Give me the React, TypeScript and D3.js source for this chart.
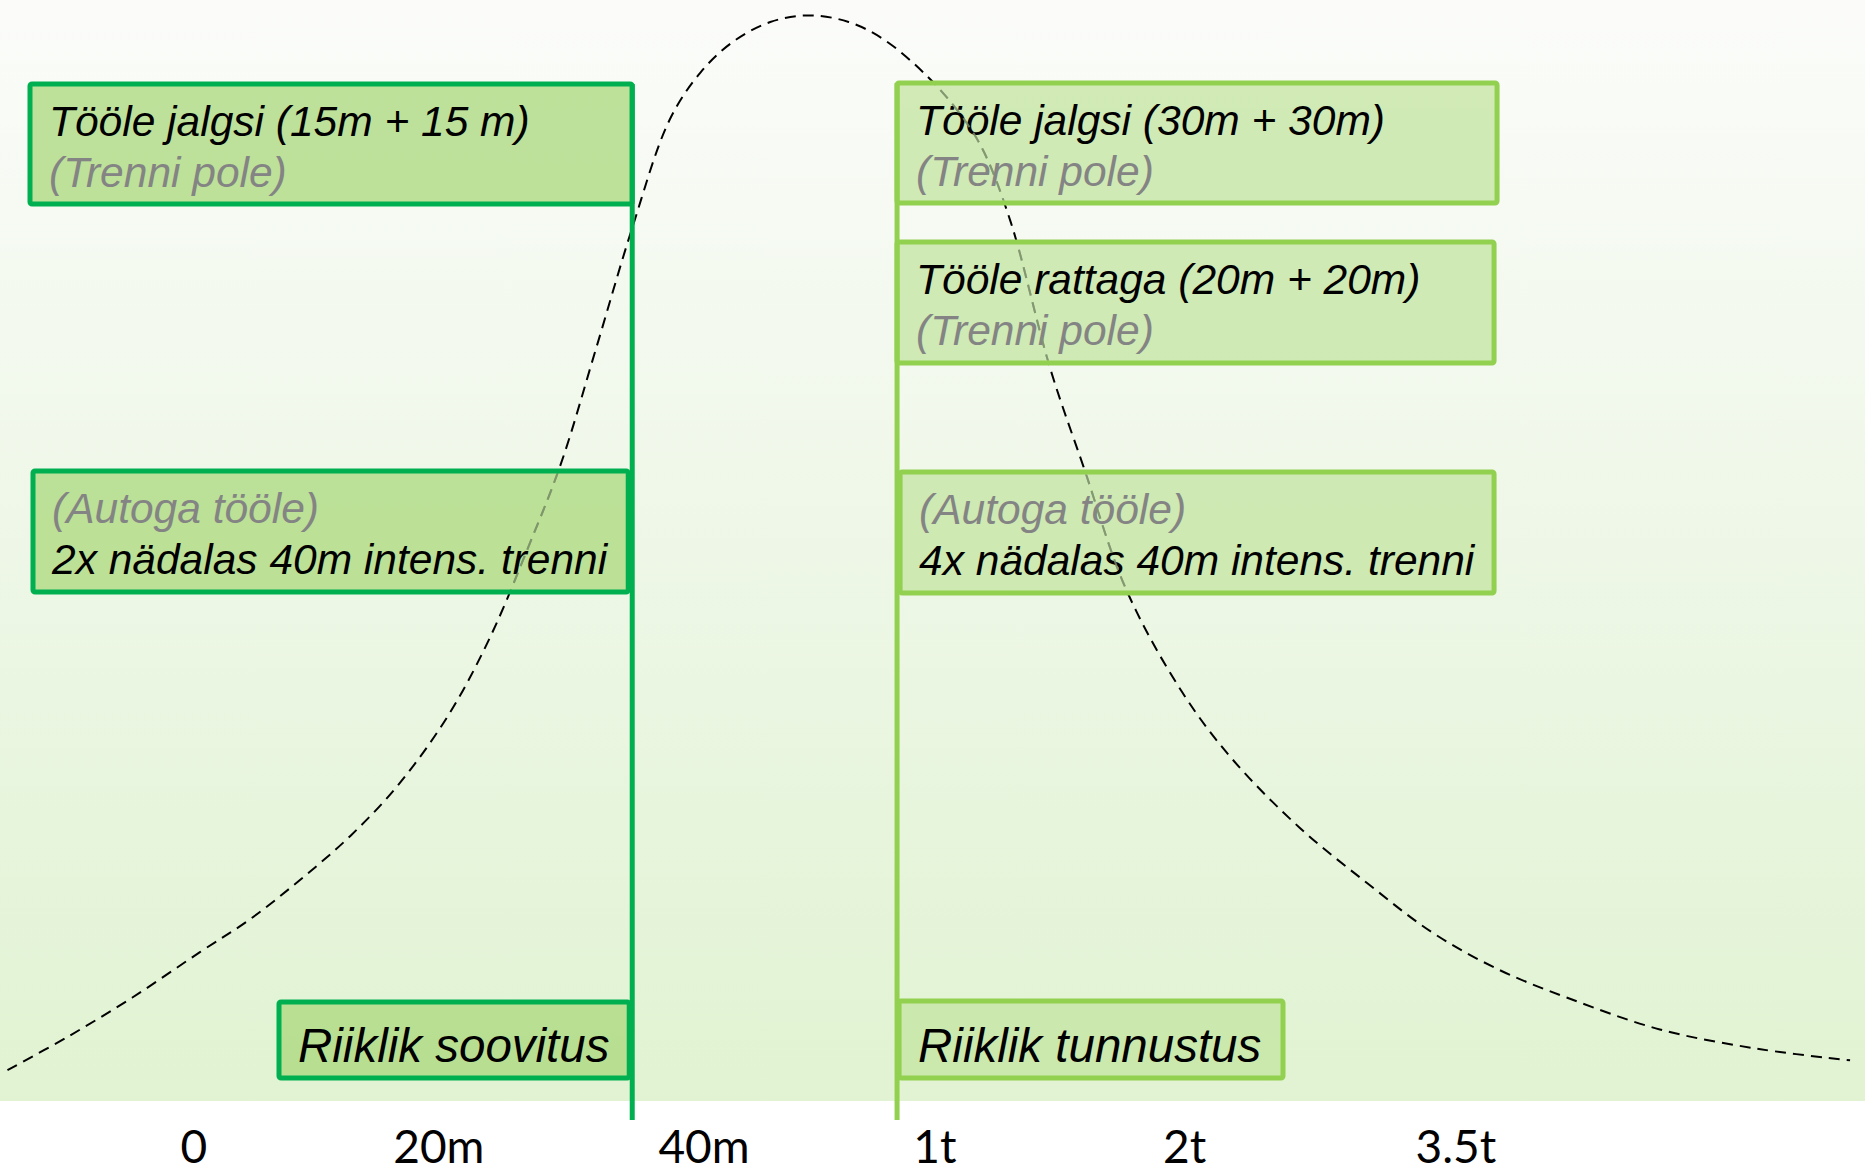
import React from "react";
import * as d3 from "d3";

// ---- data (x in % of chart width, y in relative density, 100 ≈ top) ----
const tickLabels = ["0", "20m", "40m", "1t", "2t", "3.5t"];
const tickValues = [10.4, 23.53, 37.75, 50.13, 63.52, 78.06];

const curveX = [0.4, 3.6, 7.1, 10.7, 13.4, 16.1, 18.8, 21.4, 24.1, 26.3, 28.3, 30.1, 31.9, 33.9, 35.9, 37.6, 39.3, 41.3, 43.4, 45.5, 47.4, 49.7, 51.5, 52.7, 54.2, 56.3, 58.1, 60.4, 63.4, 66.1, 69.7, 73.3, 76.8, 80.4, 84.0, 89.0, 94.4, 99.2];
const curveY = [2.8, 5.8, 9.4, 13.5, 16.5, 20.1, 24.1, 28.8, 35.2, 42.2, 50.2, 58.0, 68.0, 79.3, 89.1, 93.5, 96.2, 98.0, 98.6, 98.0, 96.4, 93.1, 89.6, 86.4, 79.8, 66.6, 57.6, 46.4, 37.1, 31.0, 24.8, 19.8, 15.3, 11.9, 9.4, 6.5, 4.7, 3.7];

const thresholdLabels = ["Riiklik soovitus", "Riiklik tunnustus"];
const thresholdValues = [33.9, 48.1];

const leftNotes = [
  [{ t: "Tööle jalgsi (15m + 15 m)", muted: false }, { t: "(Trenni pole)", muted: true }],
  [{ t: "(Autoga tööle)", muted: true }, { t: "2x nädalas 40m intens. trenni", muted: false }],
];
const rightNotes = [
  [{ t: "Tööle jalgsi (30m + 30m)", muted: false }, { t: "(Trenni pole)", muted: true }],
  [{ t: "Tööle rattaga (20m + 20m)", muted: false }, { t: "(Trenni pole)", muted: true }],
  [{ t: "(Autoga tööle)", muted: true }, { t: "4x nädalas 40m intens. trenni", muted: false }],
];

// ---- layout ----
const W = 1865;
const H = 1174;
const plotBottom = 1101;
const leftColor = "#00b050";
const rightColor = "#92d050";
const leftFill = "#a9d87b";
const rightFill = "#c3e4a0";
const boxFillOpacity = 0.75;
const textFont = "'Liberation Sans', Arial, sans-serif";

const leftBoxLayout = [
  { x: 30, top: 84, bottom: 204, inset: 0 },
  { x: 33, top: 471, bottom: 592, inset: 4 },
];
const rightBoxLayout = [
  { top: 83, bottom: 203, w: 600, dx: 0 },
  { top: 242, bottom: 363, w: 597, dx: 0 },
  { top: 472, bottom: 593, w: 597, dx: 3 },
];

export default function App() {
  const x = d3.scaleLinear().domain([0, 100]).range([0, W]);
  const y = d3.scaleLinear().domain([0, 100]).range([plotBottom, 0]);

  const pts = curveX.map((v, i) => [v, curveY[i]] as [number, number]);
  const line = d3
    .line<[number, number]>()
    .x((d) => x(d[0]))
    .y((d) => y(d[1]))
    .curve(d3.curveCatmullRom.alpha(0.5));
  const curvePath = line(pts) || "";

  const xl = x(thresholdValues[0]);
  const xr = x(thresholdValues[1]);

  type Box = { x0: number; x1: number; y0: number; y1: number; color: string; fill: string; lines: { t: string; muted: boolean }[] };
  const boxes: Box[] = [];
  leftNotes.forEach((lines, i) => {
    const L = leftBoxLayout[i];
    boxes.push({ x0: L.x, x1: xl - L.inset, y0: L.top, y1: L.bottom, color: leftColor, fill: leftFill, lines });
  });
  rightNotes.forEach((lines, i) => {
    const L = rightBoxLayout[i];
    boxes.push({ x0: xr + L.dx, x1: xr + L.w, y0: L.top, y1: L.bottom, color: rightColor, fill: rightFill, lines });
  });

  const thrBoxes = [
    { x0: 279, x1: xl - 3, y0: 1002, y1: 1078, color: leftColor, fill: leftFill, label: thresholdLabels[0] },
    { x0: xr + 2, x1: 1283, y0: 1001, y1: 1078, color: rightColor, fill: rightFill, label: thresholdLabels[1] },
  ];

  const allRects = [
    ...boxes.map((b) => ({ x0: b.x0, x1: b.x1, y0: b.y0, y1: b.y1 })),
    ...thrBoxes.map((b) => ({ x0: b.x0, x1: b.x1, y0: b.y0, y1: b.y1 })),
  ];

  return (
    <svg
      width={W}
      height={H}
      style={{ position: "absolute", left: 0, top: 0, display: "block", background: "#ffffff" }}
    >
      <defs>
        <linearGradient id="bg" x1="0" y1="0" x2="0" y2="1">
          <stop offset="0%" stopColor="#fbfcfa" />
          <stop offset="50%" stopColor="#eef7e7" />
          <stop offset="100%" stopColor="#e1f3d2" />
        </linearGradient>
        <clipPath id="boxclip">
          {allRects.map((r, i) => (
            <rect key={i} x={r.x0 + 3} y={r.y0 + 3} width={r.x1 - r.x0 - 6} height={r.y1 - r.y0 - 6} />
          ))}
        </clipPath>
      </defs>
      <rect x={0} y={0} width={W} height={plotBottom} fill="url(#bg)" />

      <path d={curvePath} fill="none" stroke="#000" strokeWidth={2} strokeDasharray="11,7" />

      {boxes.map((b, i) => (
        <rect
          key={"b" + i}
          x={b.x0}
          y={b.y0}
          width={b.x1 - b.x0}
          height={b.y1 - b.y0}
          rx={2}
          fill={b.fill}
          fillOpacity={boxFillOpacity}
          stroke={b.color}
          strokeWidth={5}
        />
      ))}
      {thrBoxes.map((b, i) => (
        <rect
          key={"t" + i}
          x={b.x0}
          y={b.y0}
          width={b.x1 - b.x0}
          height={b.y1 - b.y0}
          rx={2}
          fill={b.fill}
          fillOpacity={boxFillOpacity}
          stroke={b.color}
          strokeWidth={5}
        />
      ))}

      <line x1={xl} x2={xl} y1={84} y2={1120} stroke={leftColor} strokeWidth={5} />
      <line x1={xr} x2={xr} y1={83} y2={1120} stroke={rightColor} strokeWidth={5} />

      {boxes.map((b, i) =>
        b.lines.map((ln, j) => (
          <text
            key={"tx" + i + "-" + j}
            x={b.x0 + 19}
            y={b.y0 + 52 + j * 51}
            fontFamily={textFont}
            fontStyle="italic"
            fontSize={42.5}
            fill={ln.muted ? "#848484" : "#000"}
          >
            {ln.t}
          </text>
        ))
      )}
      {thrBoxes.map((b, i) => (
        <text
          key={"tl" + i}
          x={b.x0 + 19}
          y={1062}
          fontFamily={textFont}
          fontStyle="italic"
          fontSize={47.5}
          fill="#000"
        >
          {b.label}
        </text>
      ))}

      <path
        d={curvePath}
        fill="none"
        stroke="#7f9270"
        strokeOpacity={0.8}
        strokeWidth={2}
        strokeDasharray="11,7"
        clipPath="url(#boxclip)"
      />

      {tickLabels.map((lab, i) => (
        <text
          key={"k" + i}
          x={x(tickValues[i])}
          y={1163}
          textAnchor="middle"
          fontFamily="Lato, 'Noto Sans', sans-serif"
          fontSize={46}
          fill="#000"
        >
          {lab}
        </text>
      ))}
    </svg>
  );
}
